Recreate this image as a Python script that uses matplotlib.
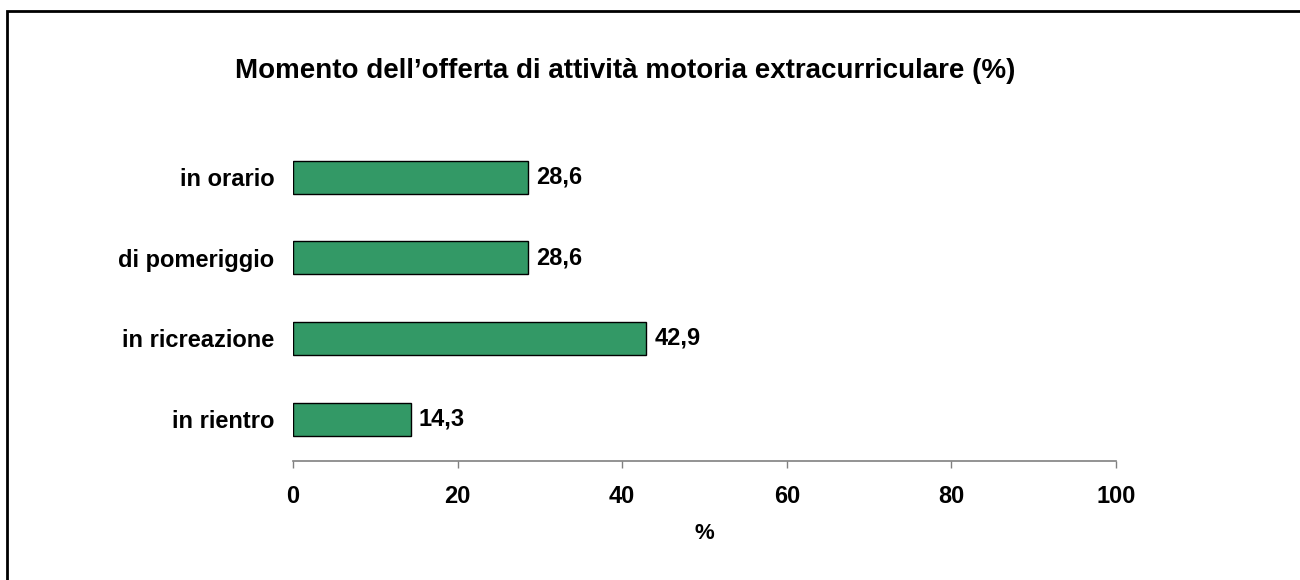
import matplotlib.pyplot as plt
from matplotlib.patches import Rectangle

categories = ["in rientro", "in ricreazione", "di pomeriggio", "in orario"]
values = [14.3, 42.9, 28.6, 28.6]
xticks = [0, 20, 40, 60, 80, 100]

plt.rcParams['font.family'] = ['Liberation Sans', 'DejaVu Sans']
plt.rcParams['font.weight'] = 'bold'

fig = plt.figure(figsize=(13, 5.8), dpi=100)
ax = fig.add_axes([293/1300, 1 - 461/580, (1116-293)/1300, (461-137)/580])

pos = list(range(len(categories)))
ax.barh(pos, values, height=0.41, color="#339966", edgecolor="black", linewidth=1)

for p, v in zip(pos, values):
    ax.text(v + 1.0, p, f"{v:.1f}".replace(".", ","), va="center", ha="left",
            fontsize=17, fontweight="bold")

ax.set_xlim(0, 100)
ax.set_ylim(-0.52, 3.5)
ax.set_xticks(xticks)
ax.set_xticklabels([str(t) for t in xticks], fontsize=17, fontweight="bold")
ax.set_yticks(pos)
ax.set_yticklabels(categories, fontsize=17, fontweight="bold")
ax.tick_params(axis="y", length=0, pad=13.5)
ax.tick_params(axis="x", length=5, width=1, color="#808080", pad=12)
for s in ["top", "right", "left"]:
    ax.spines[s].set_visible(False)
ax.spines["bottom"].set_color("#808080")
ax.spines["bottom"].set_linewidth(1.2)
ax.set_xlabel("%", fontsize=16, fontweight="bold", labelpad=11)

fig.text(625/1300, 1 - 78/580,
         "Momento dell’offerta di attività motoria extracurriculare (%)",
         ha="center", va="baseline", fontsize=20, fontweight="bold")

# border around the chart area (left/top visible only)
fig.patches.append(Rectangle((7/1300, -0.1), 1.2, 1 - 11/580 + 0.1,
                             transform=fig.transFigure, fill=False,
                             edgecolor="black", linewidth=2))

fig.savefig("out.png", dpi=100)
